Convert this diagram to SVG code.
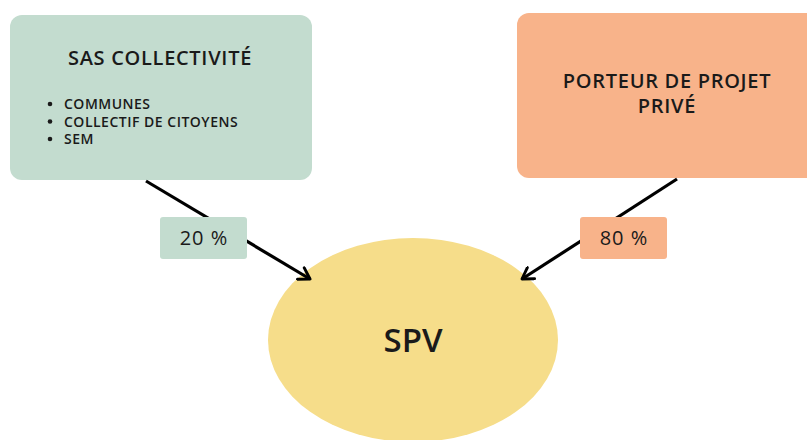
<svg xmlns="http://www.w3.org/2000/svg" width="807" height="440" viewBox="0 0 807 440">
<style>
.t{font-family:"Open Sans","Liberation Sans",sans-serif;fill:#1a1a1a;font-weight:600}
.h{font-size:20px;letter-spacing:0.7px}
.b{font-size:14px;letter-spacing:0.5px}
.p{font-size:20px;font-weight:500;letter-spacing:1px}
.conn{stroke:#000;stroke-width:3.2;fill:none}
</style>
<defs>
<marker id="ah" viewBox="0 0 12 12" refX="10" refY="6" markerWidth="5" markerHeight="5" orient="auto" markerUnits="strokeWidth">
<path d="M2,1 L10,6 L2,11" fill="none" stroke="#000" stroke-width="2.2" stroke-linecap="round" stroke-linejoin="round"/>
</marker>
</defs>
<rect width="807" height="440" fill="#fff"/>
<g id="sas">
<rect x="10" y="15" width="302" height="165" rx="12" fill="#C3DCCF"/>
<text class="t h" x="160" y="65" text-anchor="middle">SAS COLLECTIVITÉ</text>
<circle cx="50" cy="104" r="2.3" fill="#1a1a1a"/>
<circle cx="50" cy="121.5" r="2.3" fill="#1a1a1a"/>
<circle cx="50" cy="139" r="2.3" fill="#1a1a1a"/>
<text class="t b" x="64" y="109">COMMUNES</text>
<text class="t b" x="64" y="126.5">COLLECTIF DE CITOYENS</text>
<text class="t b" x="64" y="144">SEM</text>
</g>
<g id="porteur">
<rect x="517" y="13" width="310" height="165" rx="12" fill="#F8B38A"/>
<text class="t h" x="667" y="88" text-anchor="middle">PORTEUR DE PROJET</text>
<text class="t h" x="667" y="113" text-anchor="middle">PRIVÉ</text>
</g>
<g id="spv">
<ellipse cx="413" cy="340" rx="145" ry="102" fill="#F6DD8A"/>
<text class="t" x="413" y="352" font-size="33" font-weight="500" text-anchor="middle">SPV</text>
</g>
<g id="connectors">
<line class="conn" x1="146" y1="181" x2="310" y2="279" marker-end="url(#ah)"/>
<line class="conn" x1="677" y1="179" x2="522" y2="279" marker-end="url(#ah)"/>
<rect x="160" y="217" width="87" height="42" rx="3" fill="#C3DCCF"/>
<text class="t p" x="204" y="245" text-anchor="middle">20 %</text>
<rect x="580" y="217" width="87" height="42" rx="3" fill="#F8B38A"/>
<text class="t p" x="624" y="245" text-anchor="middle">80 %</text>
</g>
</svg>
